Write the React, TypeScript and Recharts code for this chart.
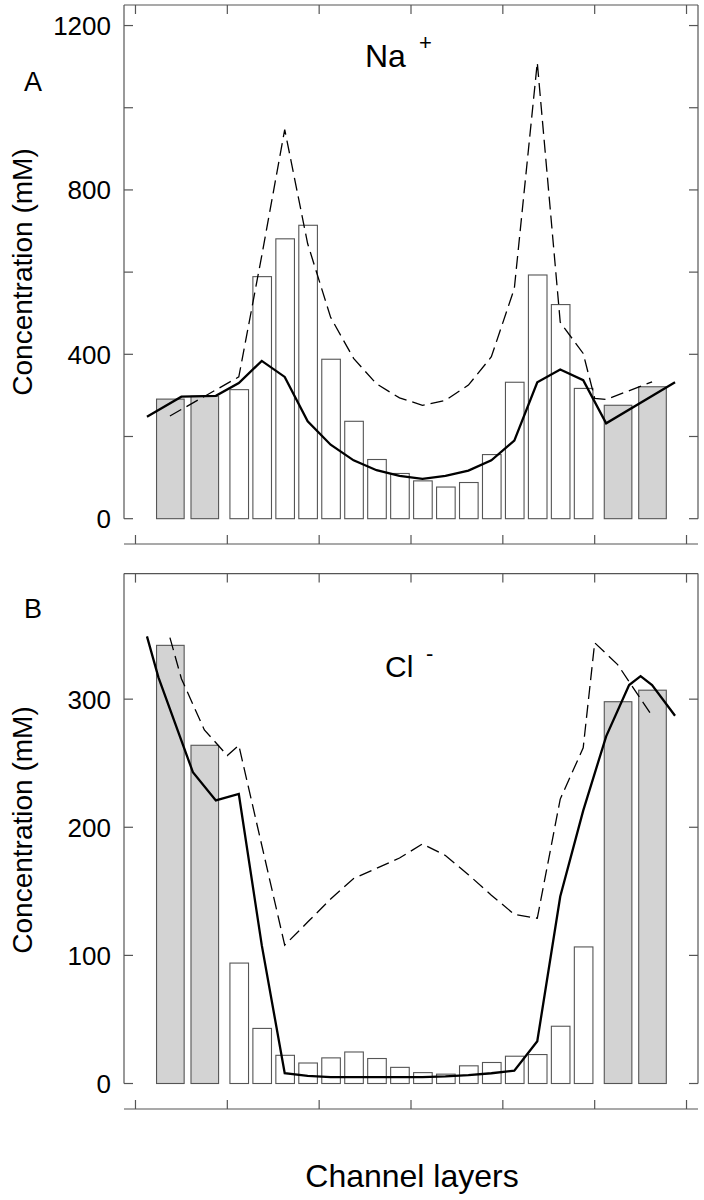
import React from 'react';
import { ComposedChart, Bar, Line, XAxis, YAxis, ReferenceLine } from 'recharts';

// channel axis, in layer units (one narrow pore layer = 1)
const X_DOMAIN: [number, number] = [-0.5, 24.5];
const X_TICKS = [0, 4, 8, 12, 16, 20, 24];

// layer centres; the two wide grey bars at each end are bath layers
const layerX = [1.5, 3, 4.5, 5.5, 6.5, 7.5, 8.5, 9.5, 10.5, 11.5, 12.5, 13.5, 14.5, 15.5, 16.5, 17.5, 18.5, 19.5, 21, 22.5];
const layerKind = ['bath', 'bath', 'pore', 'pore', 'pore', 'pore', 'pore', 'pore', 'pore', 'pore', 'pore', 'pore', 'pore', 'pore', 'pore', 'pore', 'pore', 'pore', 'bath', 'bath'];

// Na+ (panel A)
const naBars = [291, 298, 314, 589, 681, 714, 388, 237, 144, 110, 92, 77, 88, 156, 332, 593, 521, 317, 276, 321];
const naSolidX = [0.5, 2, 3.5, 4.5, 5.5, 6.5, 7.5, 8.5, 9.5, 10.5, 11.5, 12.5, 13.5, 14.5, 15.5, 16.5, 17.5, 18.5, 19.5, 20.5, 23.5];
const naSolid = [248, 297, 299, 330, 384, 345, 237, 180, 142, 118, 104, 97, 104, 117, 142, 190, 332, 363, 337, 232, 332];
const naDashedX = [1.5, 4.5, 5.5, 6.5, 7.5, 8.5, 9.5, 10.5, 11.5, 12.5, 13.5, 14.5, 15.5, 16.5, 17.5, 18.5, 19.5, 20, 20.5, 22.5];
const naDashed = [250, 345, 640, 947, 669, 490, 390, 328, 294, 276, 288, 325, 394, 560, 1110, 478, 402, 293, 290, 333];
const naTicks = [0, 200, 400, 600, 800, 1000, 1200];

// Cl- (panel B)
const clBars = [342, 264, 94, 43, 22, 16, 20, 24.6, 19.5, 12.6, 8.5, 7.3, 13.8, 16.4, 21.3, 22.6, 44.7, 106.6, 298, 307];
const clSolidX = [0.5, 1, 2.5, 3.5, 4.5, 5.5, 6.5, 7.5, 8.5, 9.5, 10.5, 11.5, 12.5, 13.5, 14.5, 15.5, 16.5, 17.5, 18.5, 19.5, 20.5, 21.5, 22, 22.5, 23.5];
const clSolid = [349, 317, 243, 221, 226, 108, 8, 6, 5, 5, 5, 5, 5, 5.5, 6.5, 8, 10, 33, 146, 213, 271, 311, 318, 311, 287];
const clDashedX = [1.5, 2, 3, 4, 4.5, 6.5, 7.5, 8.5, 9.5, 10.5, 11.5, 12.5, 13.5, 14.5, 15.5, 16.5, 17.5, 18.5, 19.5, 20, 21, 22.5];
const clDashed = [348, 316, 276, 256, 264, 108, 126, 144, 160, 168, 176, 187, 178, 163, 147, 132, 129, 222, 262, 344, 327, 287];
const clTicks = [0, 100, 200, 300];

const FONT = '"Liberation Sans", Arial, Helvetica, sans-serif';
const AXIS = '#555';
const TICK_LEN = 9;

type Row = { x: number; bar?: number; kind?: string; solid?: number; dashed?: number };

function buildRows(bars: number[], solidX: number[], solid: number[], dashedX: number[], dashed: number[]) {
  const rows = new Map<number, Row>();
  const row = (x: number) => {
    if (!rows.has(x)) rows.set(x, { x });
    return rows.get(x) as Row;
  };
  layerX.forEach((x, i) => Object.assign(row(x), { bar: bars[i], kind: layerKind[i] }));
  solidX.forEach((x, i) => { row(x).solid = solid[i]; });
  dashedX.forEach((x, i) => { row(x).dashed = dashed[i]; });
  return [...rows.values()].sort((a, b) => a.x - b.x);
}

// bath layers are drawn wider than pore layers, centred on the library's x position
const LayerRect = (props: any) => {
  const { x, y, width, height, payload } = props;
  if (payload == null || payload.bar == null || !isFinite(height)) return <g />;
  const cx = x + width / 2;
  const bath = payload.kind === 'bath';
  const w = bath ? 27.6 : 18.6;
  return (
    <rect x={cx - w / 2} y={y} width={w} height={height}
      fill={bath ? '#d3d3d3' : '#fff'} stroke={AXIS} strokeWidth={1.1} />
  );
};

const tickLine = { stroke: AXIS, strokeWidth: 1.2 };

// top/bottom are the heights of the top and bottom x-axis strips (offset bottom axis)
function Panel({ top, height, topH, bottomH, yDomain, yTicks, labelEvery, bars, solidX, solid, dashedX, dashed }: any) {
  const rows = buildRows(bars, solidX, solid, dashedX, dashed);
  const [x0, x1] = X_DOMAIN;
  const yMax = yDomain[1];

  return (
    <div style={{ position: 'absolute', left: 0, top }}>
      <ComposedChart width={704} height={height} data={rows} margin={{ top: 0, right: 0, bottom: 0, left: 0 }}>
        <XAxis dataKey="x" type="number" domain={X_DOMAIN} ticks={X_TICKS} allowDataOverflow
          interval={0} height={bottomH} tickSize={0} tickMargin={0} tickLine={false}
          axisLine={tickLine}
          tick={({ x, y }: any) => <line x1={x} x2={x} y1={y} y2={y - TICK_LEN} {...tickLine} />} />
        <XAxis xAxisId="top" orientation="top" dataKey="x" type="number" domain={X_DOMAIN} ticks={X_TICKS}
          allowDataOverflow interval={0} height={topH} tickSize={0} tickMargin={0} tickLine={false} axisLine={false}
          tick={({ x, y }: any) => <line x1={x} x2={x} y1={y} y2={y + TICK_LEN} {...tickLine} />} />
        <YAxis type="number" domain={yDomain} ticks={yTicks} allowDataOverflow interval={0} width={124}
          tickSize={0} tickMargin={0} tickLine={false} axisLine={false}
          tick={({ x, y, payload }: any) => (
            <g>
              <line x1={x} x2={x + TICK_LEN} y1={y} y2={y} {...tickLine} />
              {payload.value % labelEvery === 0 && (
                <text x={x - 13} y={y} dy="0.36em" textAnchor="end" fontFamily={FONT} fontSize={26} fill="#000">
                  {payload.value}
                </text>
              )}
            </g>
          )} />
        <YAxis yAxisId="right" orientation="right" type="number" domain={yDomain} ticks={yTicks} allowDataOverflow
          interval={0} width={6} tickSize={0} tickMargin={0} tickLine={false} axisLine={false}
          tick={({ x, y }: any) => <line x1={x} x2={x - TICK_LEN} y1={y} y2={y} {...tickLine} />} />

        <ReferenceLine ifOverflow="visible" stroke={AXIS} strokeWidth={1.2}
          segment={[{ x: x0, y: 0 }, { x: x0, y: yMax }]} />
        <ReferenceLine ifOverflow="visible" stroke={AXIS} strokeWidth={1.2}
          segment={[{ x: x0, y: yMax }, { x: x1, y: yMax }]} />
        <ReferenceLine ifOverflow="visible" stroke={AXIS} strokeWidth={1.2}
          segment={[{ x: x1, y: 0 }, { x: x1, y: yMax }]} />

        <Bar dataKey="bar" barSize={18} shape={LayerRect} isAnimationActive={false} />
        <Line dataKey="dashed" type="linear" stroke="#000" strokeWidth={1.3} strokeDasharray="13 6"
          dot={false} activeDot={false} connectNulls isAnimationActive={false} />
        <Line dataKey="solid" type="linear" stroke="#000" strokeWidth={2.3}
          dot={false} activeDot={false} connectNulls isAnimationActive={false} />
      </ComposedChart>
    </div>
  );
}

export default function App() {
  const txt = { fontFamily: FONT, fill: '#000' };
  return (
    <div style={{ position: 'absolute', left: 0, top: 0, width: 704, height: 1200, background: '#fff' }}>
      <Panel top={0} height={560} topH={5} bottomH={16}
        yDomain={[-61.6, 1250]} yTicks={naTicks} labelEvery={400}
        bars={naBars} solidX={naSolidX} solid={naSolid} dashedX={naDashedX} dashed={naDashed} />
      <Panel top={560} height={560} topH={13.6} bottomH={11}
        yDomain={[-19.9, 398]} yTicks={clTicks} labelEvery={100}
        bars={clBars} solidX={clSolidX} solid={clSolid} dashedX={clDashedX} dashed={clDashed} />

      <svg width={704} height={1200} style={{ position: 'absolute', left: 0, top: 0, pointerEvents: 'none' }}>
        <text x={24} y={91} fontSize={27} {...txt}>A</text>
        <text x={24} y={618} fontSize={27} {...txt}>B</text>
        <text x={365} y={67} fontSize={32} {...txt}>Na</text>
        <text x={419} y={50} fontSize={22} {...txt}>+</text>
        <text x={385} y={677} fontSize={30} {...txt}>Cl</text>
        <text x={426} y={661} fontSize={22} {...txt}>-</text>
        <text x={32} y={272} fontSize={28} textAnchor="middle" transform="rotate(-90 32 272)" {...txt}>
          Concentration (mM)
        </text>
        <text x={32} y={830} fontSize={28} textAnchor="middle" transform="rotate(-90 32 830)" {...txt}>
          Concentration (mM)
        </text>
        <text x={412} y={1187} fontSize={32} textAnchor="middle" {...txt}>Channel layers</text>
      </svg>
    </div>
  );
}
